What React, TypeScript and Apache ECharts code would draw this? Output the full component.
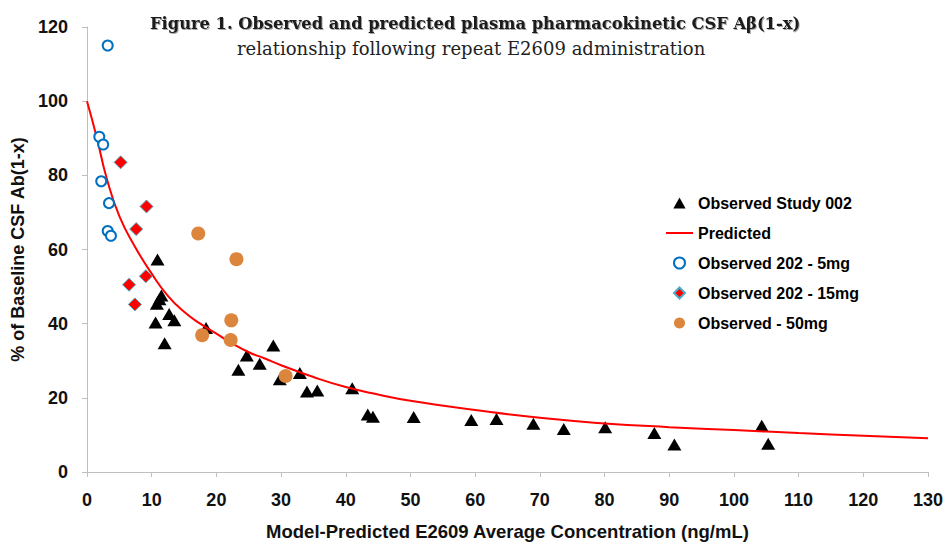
import React, { useEffect, useRef } from "react";
import * as echarts from "echarts";

const titleLine1 = "Figure 1. Observed and predicted plasma pharmacokinetic CSF Aβ(1-x)";
const titleLine2 = "relationship following repeat E2609 administration";
const xAxisTitle = "Model-Predicted E2609 Average Concentration (ng/mL)";
const yAxisTitle = "% of Baseline CSF Ab(1-x)";

const study002: [number, number][] = [
  [10.9, 57.3], [11.5, 47.6], [11.2, 46.6], [10.8, 45.4], [12.7, 42.6], [13.5, 40.9],
  [10.6, 40.3], [12.0, 34.7], [18.4, 38.8], [28.8, 34.1], [24.7, 31.4], [26.7, 29.2],
  [23.4, 27.6], [29.8, 25.0], [32.9, 26.7], [34.0, 21.7], [35.6, 22.0], [41.0, 22.6],
  [43.4, 15.5], [44.2, 14.9], [50.5, 14.8], [59.4, 14.0], [63.3, 14.3], [69.0, 13.0],
  [73.7, 11.6], [80.1, 12.1], [87.7, 10.5], [90.8, 7.4], [104.3, 12.5], [105.3, 7.6],
];

const predicted: [number, number][] = [
  [0, 100], [1.5, 90.3], [3, 79.5], [5, 69], [7.5, 60.5], [10, 53.5], [12.5, 47.5],
  [15, 43.2], [17.5, 40], [20, 37.3], [22.5, 34.6], [25, 32.3], [27.5, 30.6], [30, 28.8],
  [35, 25.6], [40, 22.9], [45, 20.9], [50, 19.2], [60, 16.7], [70, 14.6], [80, 13.1],
  [90, 12.1], [100, 11.3], [110, 10.5], [120, 9.8], [130, 9.1],
];

const obs5mg: [number, number][] = [
  [3.2, 115], [1.9, 90.4], [2.5, 88.3], [2.2, 78.4], [3.4, 72.5], [3.2, 65], [3.7, 63.7],
];

const obs15mg: [number, number][] = [
  [5.2, 83.5], [9.2, 71.6], [7.6, 65.5], [9.1, 52.8], [6.5, 50.5], [7.4, 45.2],
];

const obs50mg: [number, number][] = [
  [17.2, 64.3], [23.1, 57.4], [22.3, 40.9], [17.8, 36.9], [22.2, 35.6], [30.7, 25.9],
];

const seriesNames = [
  "Observed Study 002",
  "Predicted",
  "Observed 202 - 5mg",
  "Observed 202 - 15mg",
  "Observed - 50mg",
];

const sansBold = "'Liberation Sans', Arial, sans-serif";
const serif = "'DejaVu Serif', 'Liberation Serif', serif";

export default function App() {
  const ref = useRef<HTMLDivElement>(null);
  useEffect(() => {
    if (!ref.current) return;
    const chart = echarts.init(ref.current, undefined, { renderer: "svg" });
    chart.setOption({
      animation: false,
      backgroundColor: "#ffffff",
      title: [
        {
          text: titleLine1,
          left: 150,
          top: 15,
          padding: 0,
          textStyle: {
            fontFamily: serif,
            fontWeight: "bold",
            fontSize: 16.3,
            color: "#1a1a1a",
            textShadowColor: "rgba(0,0,0,0.35)",
            textShadowBlur: 1,
            textShadowOffsetX: 1,
            textShadowOffsetY: 1,
          },
        },
        {
          text: titleLine2,
          left: 237,
          top: 39,
          padding: 0,
          textStyle: { fontFamily: serif, fontWeight: "normal", fontSize: 18, color: "#222" },
        },
      ],
      grid: { left: 87, right: 17, top: 27, bottom: 69, containLabel: false },
      legend: {
        orient: "vertical",
        left: 666,
        top: 195,
        padding: 0,
        itemWidth: 27,
        itemHeight: 11,
        itemGap: 14,
        symbolKeepAspect: true,
        textStyle: { fontFamily: sansBold, fontWeight: "bold", fontSize: 16, color: "#000" },
        data: [
          { name: seriesNames[0], icon: "path://M5,0 L10,9 L0,9 Z", itemStyle: { color: "#000" } },
          { name: seriesNames[1], icon: "path://M0,0 L27,0 L27,2 L0,2 Z", itemStyle: { color: "#ff0000" } },
          { name: seriesNames[2], icon: "circle" },
          { name: seriesNames[3], icon: "path://M5,0 L10,5 L5,10 L0,5 Z" },
          { name: seriesNames[4], icon: "circle" },
        ],
      },
      xAxis: {
        type: "value",
        min: 0,
        max: 130,
        interval: 10,
        name: xAxisTitle,
        nameLocation: "middle",
        nameGap: 50,
        nameTextStyle: { fontFamily: sansBold, fontWeight: "bold", fontSize: 18.5, color: "#111" },
        axisLine: { show: true, lineStyle: { color: "#bfbfbf", width: 1 } },
        axisTick: { show: true, inside: false, length: 5, lineStyle: { color: "#bfbfbf" } },
        axisLabel: { margin: 19, fontFamily: sansBold, fontWeight: "bold", fontSize: 18, color: "#111" },
        splitLine: { show: false },
      },
      yAxis: {
        type: "value",
        min: 0,
        max: 120,
        interval: 20,
        name: yAxisTitle,
        nameLocation: "middle",
        nameRotate: 90,
        nameGap: 60,
        nameTextStyle: { fontFamily: sansBold, fontWeight: "bold", fontSize: 18, color: "#111" },
        axisLine: { show: true, lineStyle: { color: "#bfbfbf", width: 1 } },
        axisTick: { show: true, inside: false, length: 5, lineStyle: { color: "#bfbfbf" } },
        axisLabel: { margin: 19, fontFamily: sansBold, fontWeight: "bold", fontSize: 18, color: "#111" },
        splitLine: { show: false },
      },
      series: [
        {
          name: seriesNames[1],
          type: "line",
          data: predicted,
          smooth: true,
          symbol: "none",
          lineStyle: { color: "#ff0000", width: 2 },
          itemStyle: { color: "#ff0000" },
          z: 3,
        },
        {
          name: seriesNames[0],
          type: "scatter",
          data: study002,
          symbol: "triangle",
          symbolSize: [14, 12],
          itemStyle: { color: "#000000", opacity: 1 },
          z: 2,
        },
        {
          name: seriesNames[2],
          type: "scatter",
          data: obs5mg,
          symbol: "circle",
          symbolSize: 10,
          itemStyle: { color: "#ffffff", borderColor: "#0070c0", borderWidth: 2, opacity: 1 },
          z: 4,
        },
        {
          name: seriesNames[3],
          type: "scatter",
          data: obs15mg,
          symbol: "diamond",
          symbolSize: 13,
          itemStyle: { color: "#ff0000", borderColor: "#4bacc6", borderWidth: 1, opacity: 1 },
          z: 4,
        },
        {
          name: seriesNames[4],
          type: "scatter",
          data: obs50mg,
          symbol: "circle",
          symbolSize: 14,
          itemStyle: { color: "#dc853c", opacity: 1 },
          z: 5,
        },
      ],
    });
    return () => chart.dispose();
  }, []);
  return <div ref={ref} style={{ width: 946, height: 546, position: "absolute", left: 0, top: 0 }} />;
}
